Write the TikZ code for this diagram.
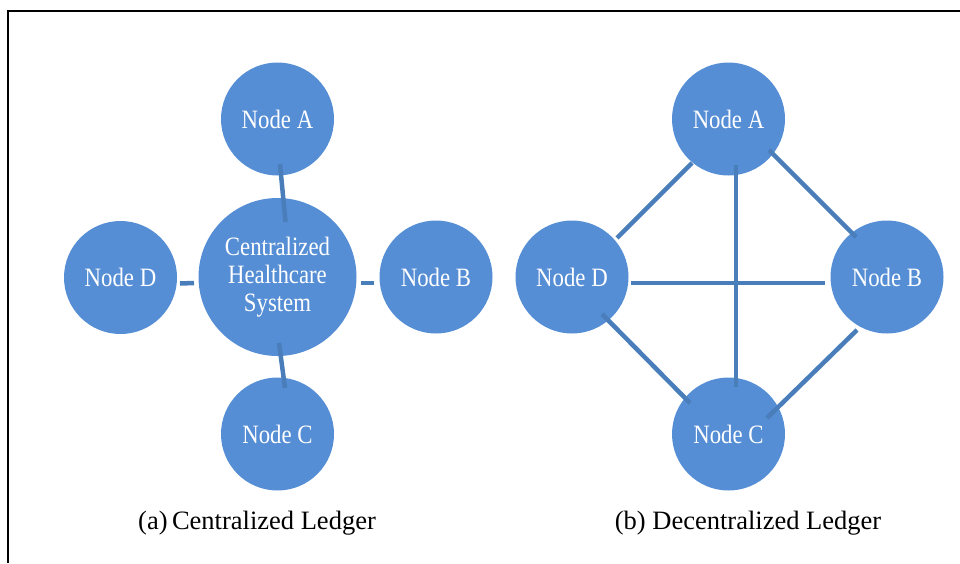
\documentclass[tikz,border=0pt]{standalone}
\usepackage{fontspec}
\setmainfont{Liberation Serif}
\newfontfamily\nodefont[FakeStretch=0.86]{Liberation Serif}
\usetikzlibrary{calc}
\definecolor{nodeblue}{RGB}{85,142,213}
\definecolor{edgeblue}{RGB}{74,126,187}
\begin{document}
\begin{tikzpicture}[x=1pt,y=-1pt,
  circ/.style={circle,fill=nodeblue,minimum size=113pt,inner sep=0pt,text=white,
    font=\nodefont\fontsize{26.5}{28}\selectfont,align=center},
  bigcirc/.style={circ,minimum size=158pt},
  link/.style={edgeblue,line width=4.5pt},
  caption/.style={font=\fontsize{26.5}{30}\selectfont,anchor=base,text=black}]
\useasboundingbox (0,0) rectangle (960,563);
\draw[line width=2.5pt] (960,11) -- (8,11) -- (8,563);

% (a) centralized
\node[circ] (la) at (277.5,119) {Node A};
\node[bigcirc] (lc0) at (277.5,277) {Centralized\\Healthcare\\System};
\node[circ] (ld) at (120.5,277.5) {Node D};
\node[circ] (lb) at (436,277) {Node B};
\node[circ] (lcC) at (277.5,434) {Node C};
\draw[link] ($(la)+(2.5,45)$) -- ($(lc0)+(8,-55)$);
\draw[link] ($(lc0)+(1.5,66)$) -- ($(lcC)+(7.5,-46)$);
\draw[link] ($(ld)+(59.5,6)$) -- ($(lc0)+(-83.5,6)$);
\draw[link] ($(lc0)+(83.5,6)$) -- ($(lb)+(-62,6)$);
\node[caption] (capa) at (257,529) {(a)\,Centralized Ledger};

% (b) decentralized
\node[circ] (rA) at (728.5,119) {Node A};
\node[circ] (rD) at (572,277) {Node D};
\node[circ] (rB) at (887,277) {Node B};
\node[circ] (rC) at (728.5,434) {Node C};
\draw[link] ($(rA)+(-36.5,44)$) -- ($(rD)+(45,-39)$);
\draw[link] ($(rA)+(7.5,46)$) -- ($(rC)+(7.5,-47)$);
\draw[link] ($(rA)+(40.5,31)$) -- ($(rB)+(-31,-40)$);
\draw[link] ($(rD)+(59,6)$) -- ($(rB)+(-62,6)$);
\draw[link] ($(rD)+(30,37)$) -- ($(rC)+(-38.5,-31)$);
\draw[link] ($(rB)+(-30,53)$) -- ($(rC)+(38.5,-16)$);
\node[caption] (capb) at (748,529) {(b) Decentralized Ledger};
\end{tikzpicture}
\end{document}
